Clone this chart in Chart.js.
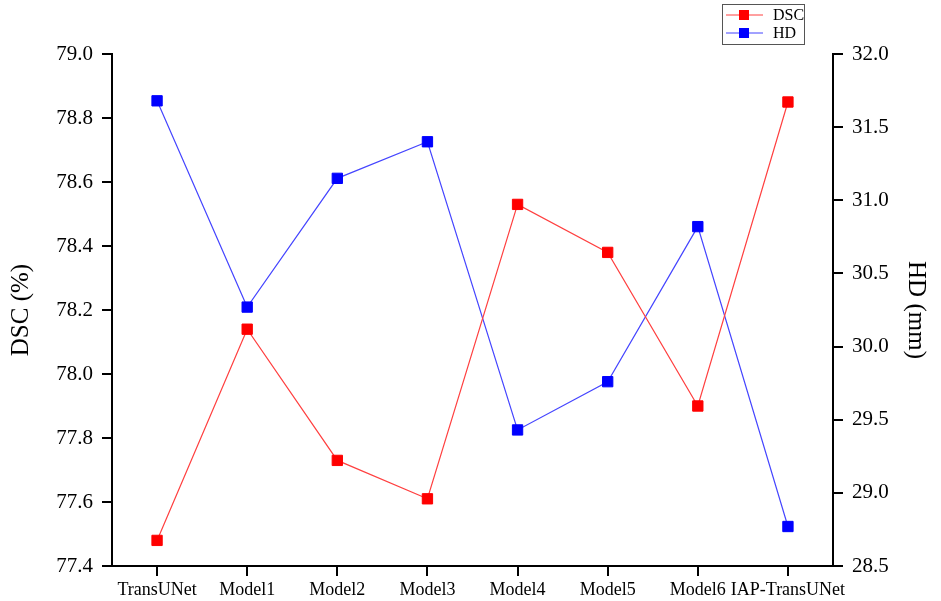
<!DOCTYPE html>
<html>
<head>
<meta charset="utf-8">
<script src="https://cdn.jsdelivr.net/npm/chart.js@4"></script>
<style>
  html, body { margin: 0; padding: 0; background: #fff; }
  #wrap { width: 941px; height: 601px; }
</style>
</head>
<body>
<div id="wrap"><canvas id="chart" width="941" height="601"></canvas></div>
<script>
// 資料
const models = ['TransUNet', 'Model1', 'Model2', 'Model3', 'Model4', 'Model5', 'Model6', 'IAP-TransUNet'];
const dscValues = [77.48, 78.14, 77.73, 77.61, 78.53, 78.38, 77.90, 78.85];
const hdValues = [31.68, 30.27, 31.15, 31.40, 29.43, 29.76, 30.82, 28.77];

const serif = "'Liberation Serif', 'DejaVu Serif', serif";

// 自訂圖例 (line + square marker, boxed)
const boxLegend = {
  id: 'boxLegend',
  afterDraw(chart) {
    const ctx = chart.ctx;
    ctx.save();
    ctx.strokeStyle = '#555';
    ctx.lineWidth = 1;
    ctx.strokeRect(722.5, 4.5, 82, 40);
    chart.data.datasets.forEach((ds, i) => {
      const y = 15 + i * 18;
      ctx.strokeStyle = ds.borderColor;
      ctx.lineWidth = 1;
      ctx.beginPath();
      ctx.moveTo(726, y);
      ctx.lineTo(763, y);
      ctx.stroke();
      ctx.fillStyle = ds.pointBackgroundColor;
      ctx.fillRect(739, y - 5, 10, 10);
      ctx.fillStyle = '#000';
      ctx.font = "16px " + serif;
      ctx.textBaseline = 'middle';
      ctx.textAlign = 'left';
      ctx.fillText(ds.label, 773, y + 1);
    });
    ctx.restore();
  }
};

const axisGrid = { display: true, drawOnChartArea: false, drawTicks: true, tickLength: 10, color: '#000', lineWidth: 2, offset: false };
const axisBorder = { display: true, color: '#000', width: 2 };

new Chart(document.getElementById('chart').getContext('2d'), {
  type: 'line',
  data: {
    labels: models,
    datasets: [
      {
        label: 'DSC',
        data: dscValues,
        yAxisID: 'y',
        borderColor: '#ff4040',
        borderWidth: 1.2,
        pointStyle: 'rect',
        pointRadius: 7.3,
        pointBorderWidth: 1,
        pointBackgroundColor: '#ff0000',
        pointBorderColor: '#ff0000',
        tension: 0
      },
      {
        label: 'HD',
        data: hdValues,
        yAxisID: 'y1',
        borderColor: '#4545ff',
        borderWidth: 1.2,
        pointStyle: 'rect',
        pointRadius: 7.3,
        pointBorderWidth: 1,
        pointBackgroundColor: '#0000ff',
        pointBorderColor: '#0000ff',
        tension: 0
      }
    ]
  },
  options: {
    responsive: false,
    animation: false,
    layout: { padding: { top: 54, left: 0, right: 0, bottom: 0 } },
    plugins: { legend: { display: false }, tooltip: { enabled: false } },
    scales: {
      x: {
        type: 'category',
        offset: true,
        grid: axisGrid,
        border: axisBorder,
        ticks: { color: '#000', font: { family: serif, size: 18 }, padding: 3, maxRotation: 0, autoSkip: false },
        afterFit(scale) { scale.height = 35; }
      },
      y: {
        position: 'left',
        min: 77.4,
        max: 79.0,
        grid: axisGrid,
        border: axisBorder,
        ticks: { stepSize: 0.2, color: '#000', font: { family: serif, size: 21 }, padding: 9, callback: v => v.toFixed(1) },
        title: { display: true, text: 'DSC (%)', color: '#000', font: { family: serif, size: 25 }, padding: { top: 6 } },
        afterFit(scale) { scale.width = 112; }
      },
      y1: {
        position: 'right',
        min: 28.5,
        max: 32.0,
        grid: axisGrid,
        border: axisBorder,
        ticks: { stepSize: 0.5, color: '#000', font: { family: serif, size: 21 }, padding: 9, callback: v => v.toFixed(1) },
        title: { display: true, text: 'HD (mm)', color: '#000', font: { family: serif, size: 25 }, padding: { top: 10 } },
        afterFit(scale) { scale.width = 108; }
      }
    }
  },
  plugins: [boxLegend]
});
</script>
</body>
</html>
